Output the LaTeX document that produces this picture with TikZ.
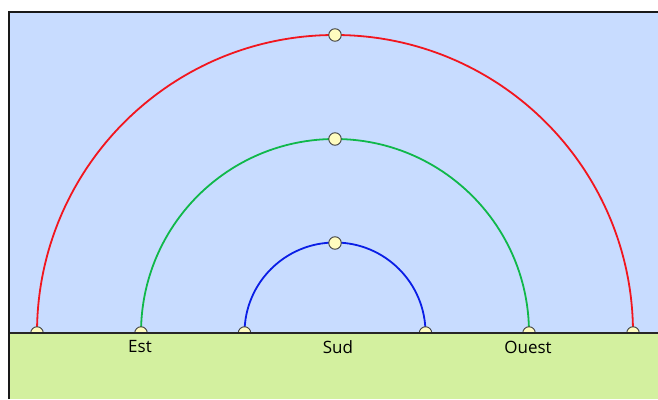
\documentclass[tikz,border=0pt]{standalone}
\usepackage{fontspec}
\setmainfont{Open Sans}
\begin{document}
\begin{tikzpicture}[x=1pt,y=1pt,
  sun/.style={circle,draw=black!75,fill=yellow!25!white,line width=0.9pt,minimum size=12.5pt,inner sep=0pt},
  path/.style={line width=1.8pt},
  lbl/.style={font=\fontsize{17}{19}\selectfont,anchor=center}]
\useasboundingbox (0,0) rectangle (658,399);
\fill[white] (0,0) rectangle (658,399);
\definecolor{sky}{HTML}{C8DCFF}
\definecolor{grnd}{HTML}{D3F09F}
\definecolor{pred}{HTML}{F2161E}
\definecolor{pgreen}{HTML}{10B84A}
\definecolor{pblue}{HTML}{0A1EE6}
\fill[sky] (9,66) rectangle (658,387);
% arcs
\coordinate (c) at (335,66);
\draw[path,pred] (37,66) arc[start angle=180,end angle=0,radius=298];
\draw[path,pgreen] (141,66) arc[start angle=180,end angle=0,radius=194];
\draw[path,pblue] (244.5,66) arc[start angle=180,end angle=0,radius=90.5];
% suns
\node[sun] (r1) at (37,66) {};
\node[sun] (r2) at (335,364) {};
\node[sun] (r3) at (633,66) {};
\node[sun] (g1) at (141,66) {};
\node[sun] (g2) at (335,260) {};
\node[sun] (g3) at (529,66) {};
\node[sun] (b1) at (244.5,66) {};
\node[sun] (b2) at (335,156) {};
\node[sun] (b3) at (425.5,66) {};
% ground
\fill[grnd] (9,0) rectangle (658,66);
\draw[line width=1.6pt,black!85] (9,66) -- (658,66);
\draw[line width=2pt,black!90] (9,0) -- (9,387) -- (658,387);
% labels
\node[lbl] (est) at (140,52) {Est};
\node[lbl] (sud) at (338,52) {Sud};
\node[lbl] (ouest) at (528,52) {Ouest};
\end{tikzpicture}
\end{document}
